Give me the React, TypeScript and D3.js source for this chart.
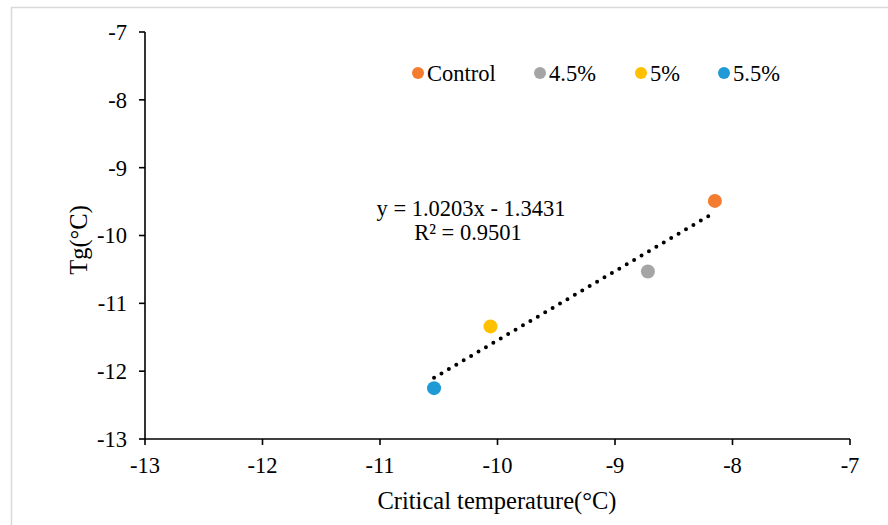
import React from "react";
import * as d3 from "d3";

const seriesNames = ["Control", "4.5%", "5%", "5.5%"];
const seriesColors = ["#F47C30", "#A5A5A5", "#FFC000", "#1F9AD6"];
const xValues = [-8.15, -8.72, -10.06, -10.54];
const yValues = [-9.49, -10.53, -11.34, -12.25];
const xTicks = [-13, -12, -11, -10, -9, -8, -7];
const yTicks = [-13, -12, -11, -10, -9, -8, -7];
const slope = 1.0203;
const intercept = -1.3431;
const equationLines = ["y = 1.0203x - 1.3431", "R² = 0.9501"];

const W = 888;
const H = 525;
const FONT = "'Liberation Serif', 'Times New Roman', serif";

export default function App() {
  const x = d3.scaleLinear().domain([-13, -7]).range([145, 850]);
  const y = d3.scaleLinear().domain([-13, -7]).range([439, 32]);
  const xmin = d3.min(xValues) as number;
  const xmax = d3.max(xValues) as number;
  const line = d3
    .line<number>()
    .x((d) => x(d))
    .y((d) => y(slope * d + intercept));
  const legendX = [418, 540, 641, 724];

  return (
    <svg
      width={W}
      height={H}
      style={{ position: "absolute", left: 0, top: 0, background: "#fff" }}
      fontFamily={FONT}
    >
      <rect x={0} y={0} width={W} height={H} fill="#fff" />
      <rect x={11.5} y={7.5} width={W} height={H} fill="none" stroke="#d9d9d9" strokeWidth={1.5} />

      {/* axes */}
      <line x1={x(-13)} x2={x(-13)} y1={y(-13)} y2={y(-7)} stroke="#000" strokeWidth={1.6} />
      <line x1={x(-13)} x2={x(-7)} y1={y(-13)} y2={y(-13)} stroke="#000" strokeWidth={1.6} />
      {yTicks.map((t) => (
        <g key={"y" + t}>
          <line x1={x(-13) - 6} x2={x(-13)} y1={y(t)} y2={y(t)} stroke="#000" strokeWidth={1.6} />
          <text x={127} y={y(t)} dy="0.35em" textAnchor="end" fontSize={22.5} fill="#000">
            {t}
          </text>
        </g>
      ))}
      {xTicks.map((t) => (
        <g key={"x" + t}>
          <line x1={x(t)} x2={x(t)} y1={y(-13)} y2={y(-13) + 6} stroke="#000" strokeWidth={1.6} />
          <text x={x(t)} y={473} textAnchor="middle" fontSize={22.5} fill="#000">
            {t}
          </text>
        </g>
      ))}

      {/* axis titles */}
      <text x={497} y={509} textAnchor="middle" fontSize={24.5} fill="#000">
        Critical temperature(°C)
      </text>
      <text
        transform={`translate(87,240) rotate(-90)`}
        textAnchor="middle"
        fontSize={24.5}
        fill="#000"
      >
        Tg(°C)
      </text>

      {/* trendline */}
      <path
        d={line([xmin, xmax]) || ""}
        fill="none"
        stroke="#000"
        strokeWidth={4}
        strokeLinecap="round"
        strokeDasharray="0 8.6"
      />

      {/* points */}
      {xValues.map((v, i) => (
        <circle key={"p" + i} cx={x(v)} cy={y(yValues[i])} r={7} fill={seriesColors[i]} />
      ))}

      {/* equation */}
      <text x={471} y={216} textAnchor="middle" fontSize={22.5} fill="#000">
        {equationLines[0]}
      </text>
      <text x={468} y={240} textAnchor="middle" fontSize={22.5} fill="#000">
        {equationLines[1]}
      </text>

      {/* legend */}
      {seriesNames.map((n, i) => (
        <g key={"l" + i}>
          <circle cx={legendX[i]} cy={73} r={6} fill={seriesColors[i]} />
          <text x={legendX[i] + 9} y={73} dy="0.35em" fontSize={22.5} fill="#000">
            {n}
          </text>
        </g>
      ))}
    </svg>
  );
}
